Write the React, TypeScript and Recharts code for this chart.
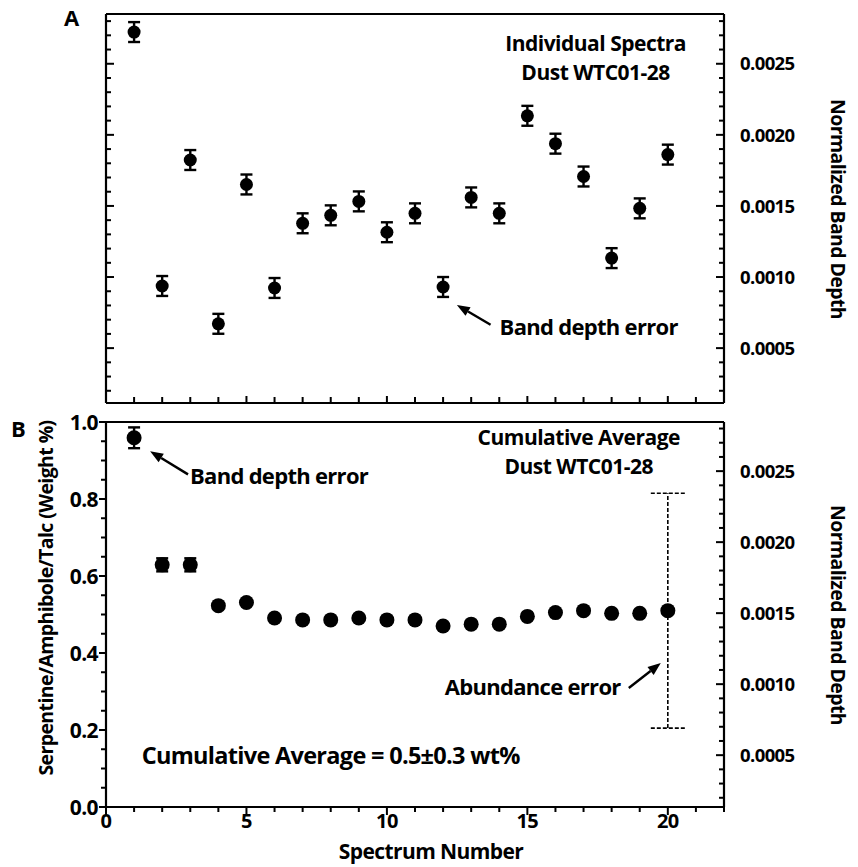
import React from "react"
import { ScatterChart, Scatter, XAxis, YAxis, ErrorBar, ReferenceLine, ReferenceDot } from "recharts"

// spectrum numbers shared by both panels
const spectrumNo = [1, 2, 3, 4, 5, 6, 7, 8, 9, 10, 11, 12, 13, 14, 15, 16, 17, 18, 19, 20]

// panel A: individual spectra, normalized band depth
const bandDepth = [
  0.002723, 0.000937, 0.001823, 0.000671, 0.001651, 0.000923, 0.001378, 0.001434, 0.001532, 0.001315,
  0.001448, 0.00093, 0.00156, 0.001448, 0.002134, 0.001938, 0.001707, 0.001133, 0.001483, 0.001861,
]
const bandDepthErr = 0.00007

// panel B: cumulative average, weight %
const cumAverage = [
  0.959, 0.629, 0.629, 0.523, 0.531, 0.491, 0.486, 0.486, 0.491, 0.486,
  0.486, 0.47, 0.475, 0.475, 0.495, 0.505, 0.51, 0.503, 0.503, 0.51,
]
const cumAverageErr = [0.027, 0.017, 0.017, 0, 0, 0, 0, 0, 0, 0, 0, 0, 0, 0, 0, 0, 0, 0, 0, 0]
const abundanceErr = 0.305

// axis ticks
const xMajor = [0, 5, 10, 15, 20]
const wtMajor = [0, 0.2, 0.4, 0.6, 0.8, 1.0]
const bdMajor = [0.0005, 0.001, 0.0015, 0.002, 0.0025]

const xTicks: number[] = []
for (let i = 0; i <= 22; i++) xTicks.push(i)
const wtTicks: number[] = []
for (let i = 0; i <= 20; i++) wtTicks.push(i * 0.05)
const bdTicks: number[] = []
for (let i = 2; i <= 28; i++) bdTicks.push(i * 0.0001)

const dataA = spectrumNo.map((x, i) => ({ x, y: bandDepth[i], e: bandDepthErr }))
const dataB = spectrumNo.map((x, i) => ({ x, y: cumAverage[i], e: cumAverageErr[i] }))
const dataAbund = [{ x: spectrumNo[19], y: cumAverage[19], e: abundanceErr }]

const FONT = "'Open Sans', 'Noto Sans', sans-serif"
const near = (list: number[]) => (v: number) => list.some((m) => Math.abs(m - v) < 1e-7)

type TickOpts = {
  side: "left" | "right" | "top" | "bottom"
  inward: boolean
  isMajor: (v: number) => boolean
  majorLen: number
  minorLen: number
  fmt?: (v: number) => string
  gap?: number
  size?: number
}

function makeTick(o: TickOpts) {
  return (p: any) => {
    const { x, y, payload } = p
    const v = payload.value
    const maj = o.isMajor(v)
    const len = maj ? o.majorLen : o.minorLen
    const d = o.inward ? 1 : -1
    let x2 = x
    let y2 = y
    if (o.side === "left") x2 = x + d * len
    if (o.side === "right") x2 = x - d * len
    if (o.side === "top") y2 = y + d * len
    if (o.side === "bottom") y2 = y - d * len
    const size = o.size || 19
    const gap = o.gap || 10
    let label = null
    if (maj && o.fmt) {
      const t = o.fmt(v)
      if (o.side === "left")
        label = <text x={x - gap} y={y + size * 0.36} textAnchor="end">{t}</text>
      else if (o.side === "right")
        label = <text x={x + gap} y={y + size * 0.36} textAnchor="start">{t}</text>
      else label = <text x={x} y={y + gap + size * 0.72} textAnchor="middle">{t}</text>
    }
    return (
      <g>
        <line x1={x} y1={y} x2={x2} y2={y2} stroke="#000" strokeWidth={2} />
        {label && (
          <g fontFamily={FONT} fontWeight={700} fontSize={size} fill="#000" letterSpacing={-0.6}>
            {label}
          </g>
        )}
      </g>
    )
  }
}

const axisLine = { stroke: "#000", strokeWidth: 2.2 }

const Dot = (r: number) => (p: any) => <circle cx={p.cx} cy={p.cy} r={r} fill="#000" />
const NoDot = () => <g />

const Arrow = (p: any) => {
  const { x1, y1, x2, y2 } = p
  const dx = x2 - x1
  const dy = y2 - y1
  const L = Math.sqrt(dx * dx + dy * dy) || 1
  const ux = dx / L
  const uy = dy / L
  const hl = 13
  const hw = 5
  const bx = x2 - ux * hl
  const by = y2 - uy * hl
  const pts = `${x2},${y2} ${bx - uy * hw},${by + ux * hw} ${bx + uy * hw},${by - ux * hw}`
  return (
    <g>
      <line x1={x1} y1={y1} x2={bx} y2={by} stroke="#000" strokeWidth={2.4} />
      <polygon points={pts} fill="#000" />
    </g>
  )
}

// one-line or two-line annotation placed at a data point
const Note = (p: any) => {
  const { viewBox, lines, anchor, size } = p
  const x = viewBox.x
  const y = viewBox.y
  const fs = size || 22
  const two = lines.length > 1
  return (
    <g fontFamily={FONT} fontWeight={700} fontSize={two ? 21 : fs} fill="#000" letterSpacing={two ? -0.5 : -0.7}>
      {lines.map((t: string, i: number) => (
        <text key={i} x={x} y={two ? y - 2 + i * 29 : y} textAnchor={anchor || "start"}>
          {t}
        </text>
      ))}
    </g>
  )
}

const bdFmt = (v: number) => v.toFixed(4)
const wtFmt = (v: number) => v.toFixed(1)

const common = { tickLine: false, tickSize: 0, tickMargin: 0, interval: 0 as const, allowDataOverflow: true, axisLine }

export default function App() {
  return (
    <div style={{ position: "absolute", left: 0, top: 0, width: 858, height: 867, background: "#fff" }}>
      {/* Panel A */}
      <div style={{ position: "absolute", left: 0, top: 0 }}>
        <ScatterChart width={858} height={420} margin={{ top: 13, right: 8, bottom: 16, left: 46 }}>
          <XAxis
            {...common}
            xAxisId="b"
            dataKey="x"
            type="number"
            domain={[0, 22]}
            ticks={xTicks}
            orientation="bottom"
            height={1}
            tick={makeTick({ side: "bottom", inward: true, isMajor: near(xMajor), majorLen: 7, minorLen: 6 })}
          />
          <XAxis
            {...common}
            xAxisId="t"
            type="number"
            domain={[0, 22]}
            ticks={xTicks}
            orientation="top"
            height={1}
            tick={makeTick({ side: "top", inward: true, isMajor: near(xMajor), majorLen: 7, minorLen: 6 })}
          />
          <YAxis
            {...common}
            yAxisId="l"
            type="number"
            domain={[0.000114, 0.00285]}
            ticks={bdTicks}
            orientation="left"
            width={60}
            tick={makeTick({ side: "left", inward: true, isMajor: near(bdMajor), majorLen: 8, minorLen: 5 })}
          />
          <YAxis
            {...common}
            yAxisId="r"
            dataKey="y"
            type="number"
            domain={[0.000114, 0.00285]}
            ticks={bdTicks}
            orientation="right"
            width={126}
            tick={makeTick({ side: "right", inward: true, isMajor: near(bdMajor), majorLen: 8, minorLen: 5, fmt: bdFmt, gap: 16, size: 18.5 })}
          />
          <Scatter data={dataA} xAxisId="b" yAxisId="r" isAnimationActive={false} shape={Dot(6.5)}>
            <ErrorBar dataKey="e" direction="y" width={6} stroke="#000" strokeWidth={2.4} isAnimationActive={false} />
          </Scatter>
          <ReferenceLine
            xAxisId="b"
            yAxisId="r"
            segment={[{ x: 13.69, y: 0.000664 }, { x: 12.49, y: 0.000804 }]}
            shape={Arrow}
            ifOverflow="visible"
          />
          <ReferenceDot xAxisId="b" yAxisId="r" x={14.01} y={0.000594} r={0} stroke="none" label={<Note lines={["Band depth error"]} />} />
          <ReferenceDot
            xAxisId="b"
            yAxisId="r"
            x={17.43}
            y={0.002575}
            r={0}
            stroke="none"
            label={<Note lines={["Individual Spectra", "Dust WTC01-28"]} anchor="middle" />}
          />
        </ScatterChart>
      </div>

      {/* Panel B */}
      <div style={{ position: "absolute", left: 0, top: 400 }}>
        <ScatterChart width={858} height={467} margin={{ top: 21, right: 8, bottom: 10, left: 46 }}>
          <XAxis
            {...common}
            xAxisId="b"
            dataKey="x"
            type="number"
            domain={[0, 22]}
            ticks={xTicks}
            orientation="bottom"
            height={50}
            tick={makeTick({ side: "bottom", inward: false, isMajor: near(xMajor), majorLen: 8, minorLen: 5, fmt: (v) => String(v), gap: 7, size: 20 })}
          />
          <XAxis
            {...common}
            xAxisId="t"
            type="number"
            domain={[0, 22]}
            ticks={xTicks}
            orientation="top"
            height={1}
            tick={makeTick({ side: "top", inward: true, isMajor: near(xMajor), majorLen: 6, minorLen: 6 })}
          />
          <YAxis
            {...common}
            yAxisId="l"
            dataKey="y"
            type="number"
            domain={[0, 1]}
            ticks={wtTicks}
            orientation="left"
            width={60}
            tick={makeTick({ side: "left", inward: false, isMajor: near(wtMajor), majorLen: 7, minorLen: 5, fmt: wtFmt, gap: 8, size: 21 })}
          />
          <YAxis
            {...common}
            yAxisId="r"
            type="number"
            domain={[0.000135, 0.002846]}
            ticks={bdTicks}
            orientation="right"
            width={126}
            tick={makeTick({ side: "right", inward: true, isMajor: near(bdMajor), majorLen: 8, minorLen: 5, fmt: bdFmt, gap: 16, size: 18.5 })}
          />
          <Scatter data={dataB} xAxisId="b" yAxisId="l" isAnimationActive={false} shape={Dot(7.5)}>
            <ErrorBar dataKey="e" direction="y" width={6} stroke="#000" strokeWidth={2.4} isAnimationActive={false} />
          </Scatter>
          <Scatter data={dataAbund} xAxisId="b" yAxisId="l" isAnimationActive={false} shape={NoDot}>
            <ErrorBar dataKey="e" direction="y" width={17} stroke="#000" strokeWidth={1.6} strokeDasharray="4 2" isAnimationActive={false} />
          </Scatter>
          <ReferenceLine
            xAxisId="b"
            yAxisId="l"
            segment={[{ x: 2.92, y: 0.864 }, { x: 1.57, y: 0.924 }]}
            shape={Arrow}
            ifOverflow="visible"
          />
          <ReferenceLine
            xAxisId="b"
            yAxisId="l"
            segment={[{ x: 18.61, y: 0.309 }, { x: 19.75, y: 0.374 }]}
            shape={Arrow}
            ifOverflow="visible"
          />
          <ReferenceDot xAxisId="b" yAxisId="l" x={2.99} y={0.838} r={0} stroke="none" label={<Note lines={["Band depth error"]} />} />
          <ReferenceDot
            xAxisId="b"
            yAxisId="l"
            x={16.83}
            y={0.934}
            r={0}
            stroke="none"
            label={<Note lines={["Cumulative Average", "Dust WTC01-28"]} anchor="middle" />}
          />
          <ReferenceDot xAxisId="b" yAxisId="l" x={18.32} y={0.291} r={0} stroke="none" label={<Note lines={["Abundance error"]} anchor="end" />} />
          <ReferenceDot
            xAxisId="b"
            yAxisId="l"
            x={1.27}
            y={0.111}
            r={0}
            stroke="none"
            label={<Note lines={["Cumulative Average = 0.5\u00B10.3 wt%"]} size={23.5} />}
          />
        </ScatterChart>
      </div>

      {/* panel letters and axis titles */}
      <svg width={858} height={867} style={{ position: "absolute", left: 0, top: 0, pointerEvents: "none" }}>
        <g fontFamily={FONT} fontWeight={700} fill="#000" fontSize={22}>
          <text x={64} y={26}>A</text>
          <text x={11} y={437}>B</text>
        </g>
        <g fontFamily={FONT} fontWeight={700} fill="#000" fontSize={19.5} letterSpacing={-0.6} textAnchor="middle">
          <text x={0} y={0} transform="translate(53,598) rotate(-90)">Serpentine/Amphibole/Talc (Weight %)</text>
          <text x={0} y={0} transform="translate(831,209) rotate(90)">Normalized Band Depth</text>
          <text x={0} y={0} transform="translate(831,615) rotate(90)">Normalized Band Depth</text>
          <text x={431} y={859} fontSize={21}>Spectrum Number</text>
        </g>
      </svg>
    </div>
  )
}
